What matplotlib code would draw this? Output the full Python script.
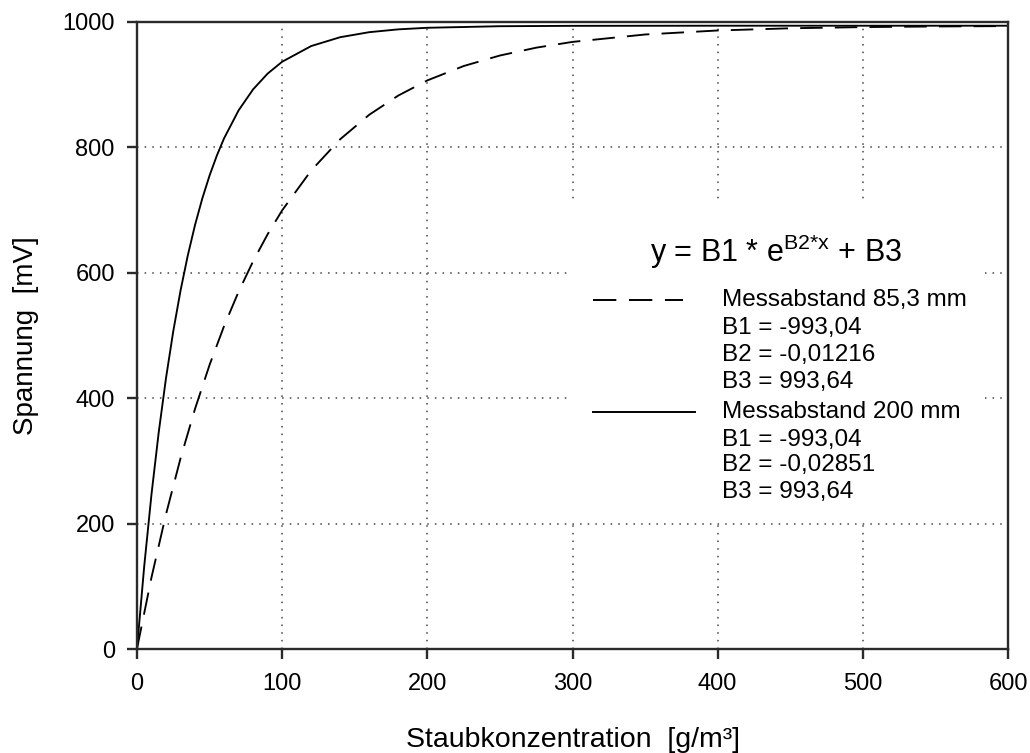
import matplotlib
matplotlib.use("Agg")
import matplotlib.pyplot as plt
from matplotlib.patches import Rectangle

plt.rcParams['font.family'] = ['Liberation Sans', 'DejaVu Sans']
plt.rcParams['mathtext.fontset'] = 'custom'
plt.rcParams['mathtext.rm'] = 'Liberation Sans'
plt.rcParams['mathtext.it'] = 'Liberation Sans'

# Data
x_85 = [0, 10, 20, 30, 40, 50, 60, 70, 80, 90, 100, 120, 140, 160, 180, 200,
        225, 250, 275, 300, 350, 400, 450, 500, 550, 600]
y_85 = [0.6, 114.3, 215.0, 304.1, 383.0, 453.0, 514.9, 569.7, 618.2, 661.2, 699.3,
        762.8, 812.7, 851.7, 882.3, 906.4, 929.3, 946.1, 958.6, 967.8, 979.6,
        986.0, 989.5, 991.4, 992.4, 993.0]

x_200 = [0, 5, 10, 15, 20, 25, 30, 35, 40, 45, 50, 55, 60, 70, 80, 90, 100,
         120, 140, 160, 180, 200, 250, 300, 400, 600]
y_200 = [0.6, 132.6, 247.0, 346.2, 432.2, 506.8, 571.5, 627.5, 676.2, 718.3, 754.9,
         786.6, 814.2, 858.7, 892.2, 917.3, 936.2, 961.2, 975.3, 983.3, 987.8,
         990.3, 992.8, 993.4, 993.6, 993.6]

x_ticks = [0, 100, 200, 300, 400, 500, 600]
y_ticks = [0, 200, 400, 600, 800, 1000]

formula = r'y = B1 * e$^{\mathrm{B2{*}x}}$ + B3'
legend_85 = ['Messabstand 85,3 mm', 'B1 = -993,04', 'B2 = -0,01216', 'B3 = 993,64']
legend_200 = ['Messabstand 200 mm', 'B1 = -993,04', 'B2 = -0,02851', 'B3 = 993,64']

fig = plt.figure(figsize=(10.3, 7.53), dpi=100)
ax = fig.add_axes([137/1030, 1 - 649/753, 871/1030, 627.3/753])

ax.set_xlim(0, 600)
ax.set_ylim(0, 1000)
ax.set_xticks(x_ticks)
ax.set_yticks(y_ticks)

dash = (0, (12, 6.5))
ax.plot(x_85, y_85, color='black', lw=1.35, linestyle=dash, zorder=3)
ax.plot(x_200, y_200, color='black', lw=1.35, zorder=3)

ax.set_axisbelow(True)
ax.grid(True, color='#444444', linestyle=(0, (1, 4)), linewidth=1.1)

# white legend area
ax.add_patch(Rectangle((0.4994, 0.2026), 0.4742, 0.5134, transform=ax.transAxes,
                       facecolor='white', edgecolor='none', zorder=1))

for s in ax.spines.values():
    s.set_linewidth(1.7)
    s.set_color('#2a2a2a')
    s.set_zorder(4)

ax.tick_params(axis='both', direction='out', length=7, width=1.7, color='#2a2a2a',
               labelsize=17)
ax.tick_params(axis='x', pad=10)
ax.tick_params(axis='y', pad=9)

ax.set_xlabel('Staubkonzentration  [g/m³]', fontsize=20.5, labelpad=23)
ax.set_ylabel('Spannung  [mV]', fontsize=20, labelpad=17)

# formula / legend
ax.text(0.7337, 0.633, formula, transform=ax.transAxes, ha='center', va='center',
        fontsize=22, zorder=5)
ax.plot([0.5235, 0.6269], [0.5566, 0.5566], transform=ax.transAxes, color='black',
        lw=1.4, linestyle=dash, zorder=5, clip_on=False)
ax.plot([0.5235, 0.6406], [0.378, 0.378], transform=ax.transAxes, color='black',
        lw=1.4, zorder=5, clip_on=False)
ys_85 = [0.5566, 0.512, 0.469, 0.426]
ys_200 = [0.378, 0.3333, 0.2935, 0.2504]
for t, yy in zip(legend_85, ys_85):
    ax.text(0.6716, yy, t, transform=ax.transAxes, ha='left', va='center',
            fontsize=17.5, zorder=5)
for t, yy in zip(legend_200, ys_200):
    ax.text(0.6716, yy, t, transform=ax.transAxes, ha='left', va='center',
            fontsize=17.5, zorder=5)

fig.savefig('out.png', dpi=100)
